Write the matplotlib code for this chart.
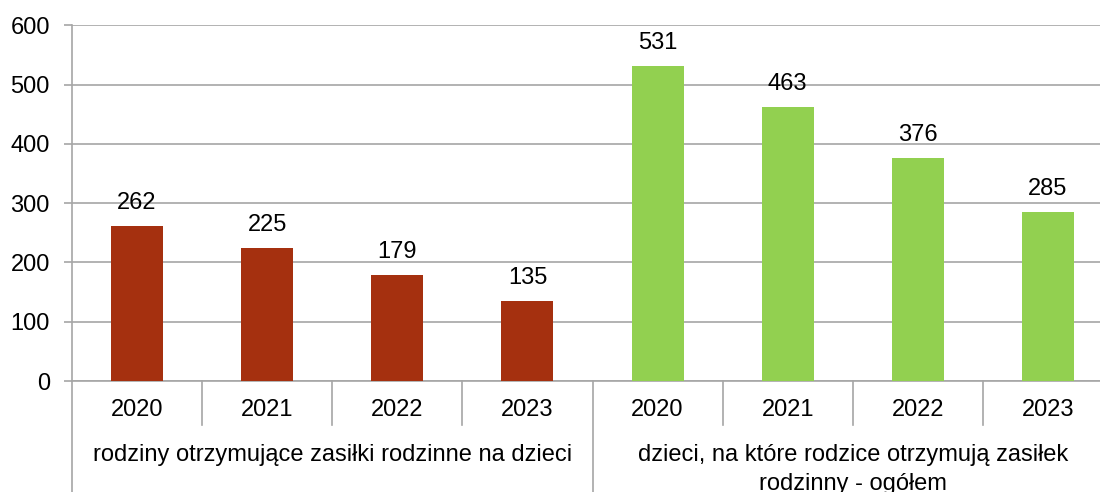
import matplotlib
matplotlib.use('Agg')
import matplotlib.pyplot as plt
import matplotlib.transforms as mtransforms

plt.rcParams['font.family'] = ['Liberation Sans', 'DejaVu Sans']

years = ['2020', '2021', '2022', '2023']
groups = ['rodziny otrzymujące zasiłki rodzinne na dzieci',
          'dzieci, na które rodzice otrzymują zasiłek\nrodzinny - ogółem']
families = [262, 225, 179, 135]
children = [531, 463, 376, 285]

red = '#A5300F'
green = '#92D050'
gray = '#A6A6A6'
fs = 17

fig = plt.figure(figsize=(11, 4.92), dpi=100)
W, H = 1100, 492
x0, x1, y0, y1 = 72, 1113, 381, 25.3
ax = fig.add_axes([x0 / W, 1 - y0 / H, (x1 - x0) / W, (y0 - y1) / H])

values = families + children
colors = [red] * 4 + [green] * 4
pos = list(range(len(values)))
bars = ax.bar(pos, values, width=0.4, color=colors, zorder=3)
for p, v in zip(pos, values):
    ax.annotate(str(v), (p, v), xytext=(0, 16.5), textcoords='offset points',
                ha='center', va='center', fontsize=fs)

ax.set_xlim(-0.5, 7.5)
ax.set_ylim(0, 600)
ax.set_yticks(range(0, 601, 100))
ax.yaxis.grid(True, color=gray, linewidth=1.2, zorder=0)
ax.set_axisbelow(True)
ax.tick_params(axis='y', length=6, color=gray, width=1.2, labelsize=fs, pad=10)
ax.set_xticks([])
for s in ['top', 'right']:
    ax.spines[s].set_visible(False)
for s in ['left', 'bottom']:
    ax.spines[s].set_color(gray)
    ax.spines[s].set_linewidth(1.2)

ph = y0 - y1
trans = mtransforms.blended_transform_factory(ax.transData, ax.transAxes)
# left axis line running down through the category labels
ax.plot([0, 0], [0, -(H - y0) / ph], transform=ax.transAxes, color=gray,
        linewidth=1.2, clip_on=False)
for b in [0.5, 1.5, 2.5, 4.5, 5.5, 6.5]:
    ax.plot([b, b], [0, -44 / ph], transform=trans, color=gray,
            linewidth=1.2, clip_on=False)
ax.plot([3.5, 3.5], [0, -(H - y0) / ph], transform=trans, color=gray,
        linewidth=1.2, clip_on=False)

for p in pos:
    ax.text(p, -29 / ph, years[p % 4], transform=trans, ha='center',
            va='center', fontsize=fs)
ax.text(1.5, -(455 - y0) / ph, groups[0], transform=trans, ha='center',
        va='center', fontsize=fs)
ax.text(5.5, -(444 - y0) / ph, groups[1], transform=trans, ha='center',
        va='top', fontsize=fs, linespacing=1.4)

fig.savefig('out.png', dpi=100)
